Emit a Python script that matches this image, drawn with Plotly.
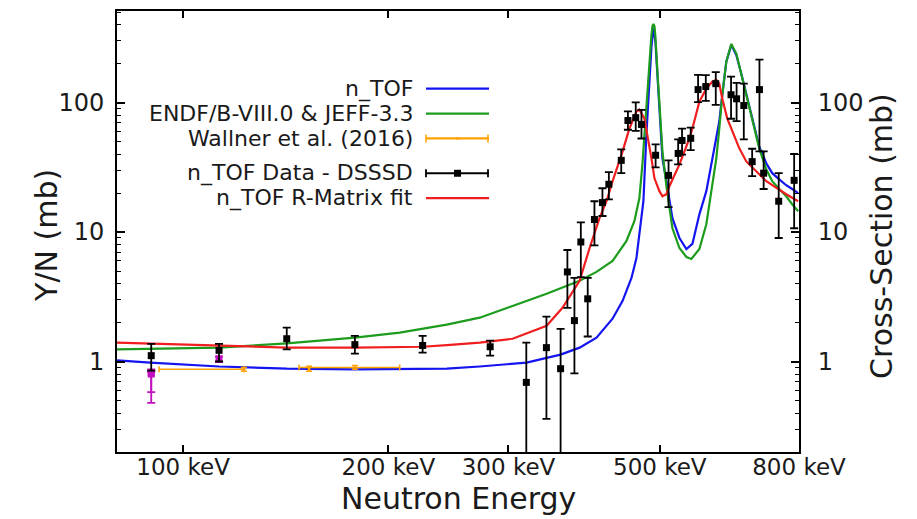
import plotly.graph_objects as go
import math

# ---------------- data ----------------
# n_TOF evaluation (blue)
blue_E = [80.0, 89.5, 112.9, 142, 178.6, 243.6, 272.2, 318.9, 357.6, 381.4, 403.8, 426.3, 441, 454.4,
          462.1, 469.9, 473.1, 477.9, 482.8, 486.1, 489.4, 492.7, 496.0, 501.1, 504.5, 511.3, 521.8,
          534.3, 547, 558.2, 571.5, 585.1, 597, 607.2, 611.3, 617.5, 625.9, 636.6, 647.4, 658.4,
          669.6, 683.3, 699.5, 716.3, 730.9, 748.4, 766.2, 781.8, 797.8]
blue_Y = [1.02, 0.98, 0.915, 0.88, 0.87, 0.88, 0.915, 0.98, 1.13, 1.28, 1.53, 2.14, 2.94, 4.42,
          6.31, 12.2, 17.3, 56.7, 153, 269, 383, 295, 164, 63.1, 37.1, 24.7, 12.8,
          9.0, 7.4, 8.1, 13.7, 20.7, 37.1, 59.8, 71.7, 115, 207, 279, 233, 167,
          117, 73.9, 45.6, 34.0, 28.5, 25.5, 23.0, 21.5, 20.0]

# ENDF/B-VIII.0 & JEFF-3.3 (green)
green_E = [80.0, 112.9, 142, 178.6, 207.8, 243.6, 272.2, 304.2, 341.2, 381.4, 403.8, 426.3, 446.8,
           459, 466.7, 471.5, 476.3, 479.6, 482.8, 486.1, 487.8, 489.4, 491.1, 492.7, 496.0, 499.4,
           504.5, 511.3, 521.8, 534.3, 547, 556.3, 571.5, 585.1, 597, 605.1, 611.3, 617.5, 625.9,
           636.6, 647.4, 658.4, 669.6, 683.3, 699.5, 716.3, 730.9, 748.4, 766.2, 781.8, 797.8]
green_Y = [1.24, 1.28, 1.38, 1.53, 1.67, 1.93, 2.18, 2.70, 3.34, 4.20, 4.92, 5.98, 8.53,
           12.2, 18.3, 33.3, 71.7, 133, 207, 334, 391, 405, 391, 322, 174, 93.1,
           42.0, 22.6, 10.7, 7.53, 6.42, 6.2, 7.4, 11.5, 23.4, 37.1, 63.1, 115, 207,
           284, 239, 167, 115, 71.7, 44.3, 30.5, 24.7, 21.5, 18.9, 16.4, 14.5]

# n_TOF R-Matrix fit (red)
red_E = [80.0, 112.9, 142, 178.6, 224.5, 243.6, 272.2, 304.2, 341.2, 360, 381.4, 394.5, 407.9,
         417.7, 426.3, 441, 451.3, 462.1, 466.7, 474.7, 479.6, 486.1, 491.1, 499.4, 504.5, 511.3,
         516.5, 534.3, 552.6, 558.2, 571.5, 585.1, 597, 605.1, 611.3, 617.5, 628, 638.8, 654,
         669.6, 692.5, 716.3, 766.2, 797.8]
red_Y = [1.40, 1.33, 1.28, 1.28, 1.30, 1.34, 1.40, 1.50, 1.89, 2.60, 4.20, 7.53, 12.8,
         17.3, 24.7, 42.0, 63.1, 85.3, 88.3, 75.3, 56.7, 37.1, 26.0, 20.7, 18.9, 19.6,
         22.6, 33.3, 52.8, 63.1, 101.8, 128.2, 145, 150, 140, 107, 75.3, 59.8, 44.3,
         35.1, 29.5, 24.7, 19.6, 17.3]

# n_TOF Data - DSSSD (black)
data_E = [89.8, 112.9, 141.9, 178.6, 224.5, 282, 318.6, 341, 357.7, 366, 374.8, 383, 392, 401, 412,
          421, 439, 449, 461, 470, 493, 515, 532, 539, 555, 569, 584, 604, 636, 648, 664, 683, 700,
          710, 747, 787]
data_Y = [1.11, 1.22, 1.50, 1.35, 1.33, 1.30, 0.69, 1.28, 0.88, 4.92, 2.07, 8.38, 3.05, 12.5, 16.9,
          23.4, 35.8, 72.7, 76.5, 67.8, 39.2, 27.4, 40.5, 51, 53, 126, 133, 140, 115, 107, 95, 35, 126,
          28.5, 17.3, 25.1]
data_err_plus = [0.26, 0.15, 0.33, 0.23, 0.25, 0.15, 0.71, 0.94, 0.91, 2.35, 2.35, 3.5, 1.37, 4.8, 4.9,
                 5.6, 7.7, 13, 24, 20, 8.3, 8.4, 11.4, 12, 11, 38, 30, 32, 44, 35, 45, 9, 89,
                 13.5, 11.2, 15]
data_err_minus = [0.26, 0.22, 0.26, 0.20, 0.16, 0.19, 0.685, 0.92, 0.875, 2.32, 1.26, 3.9, 1.49, 4.6, 3.6,
                  5.5, 7.3, 11, 16, 15, 7.6, 11.8, 7.2, 11.3, 10, 25, 30, 44, 40, 35, 43, 8, 84,
                  7, 8.3, 14.4]

# extra low-energy points (magenta)
mag_E = [89.8, 89.8, 112.9]
mag_Y = [0.82, 0.80, 1.05]
mag_err_plus = [0.05, 0.03, 0.04]
mag_err_minus = [0.34, 0.22, 0.06]

# Wallner et al. (2016) (orange)
wal_E = [122.8, 153, 178.6]
wal_Y = [0.87, 0.88, 0.90]
wal_xerr_minus = [30.6, 0.0, 30.7]
wal_xerr_plus = [0.0, 0.0, 29.2]
wal_yerr = [0.03, 0.04, 0.03]

x_tickvals = [100, 200, 300, 500, 800]
x_ticktext = ["100 keV", "200 keV", "300 keV", "500 keV", "800 keV"]
y_tickvals = [1, 10, 100]
y_ticktext = ["1", "10", "100"]
y_minor_vals = [d * m for d in [0.1, 1, 10, 100] for m in range(2, 10)]

legend_labels = ["n_TOF", "ENDF/B-VIII.0 & JEFF-3.3", "Wallner et al. (2016)",
                 "n_TOF Data - DSSSD", "n_TOF R-Matrix fit"]

# ---------------- styling ----------------
FONT = "DejaVu Sans"
TXT = "#1a1a1a"
C_BLUE = "#1414f0"
C_GREEN = "#1c9c1c"
C_RED = "#f01e1e"
C_ORANGE = "#ffa000"
C_MAG = "#c010c0"

fig = go.Figure()

fig.add_trace(go.Scatter(x=blue_E, y=blue_Y, mode="lines",
                         line=dict(color=C_BLUE, width=2.2), showlegend=False))
fig.add_trace(go.Scatter(x=green_E, y=green_Y, mode="lines",
                         line=dict(color=C_GREEN, width=2.2), showlegend=False))
fig.add_trace(go.Scatter(x=red_E, y=red_Y, mode="lines",
                         line=dict(color=C_RED, width=2.2), showlegend=False))

fig.add_trace(go.Scatter(
    x=wal_E, y=wal_Y, mode="markers",
    marker=dict(color=C_ORANGE, size=3, symbol="circle"),
    error_x=dict(type="data", symmetric=False, array=wal_xerr_plus, arrayminus=wal_xerr_minus,
                 color=C_ORANGE, thickness=1.5, width=3),
    error_y=dict(type="data", array=wal_yerr, color=C_ORANGE, thickness=1.5, width=3),
    showlegend=False))

fig.add_trace(go.Scatter(
    x=mag_E, y=mag_Y, mode="markers",
    marker=dict(color=C_MAG, size=7, symbol="square"),
    error_y=dict(type="data", symmetric=False, array=mag_err_plus, arrayminus=mag_err_minus,
                 color=C_MAG, thickness=1.8, width=4),
    showlegend=False))

fig.add_trace(go.Scatter(
    x=data_E, y=data_Y, mode="markers",
    marker=dict(color="black", size=7, symbol="square"),
    error_y=dict(type="data", symmetric=False, array=data_err_plus, arrayminus=data_err_minus,
                 color="black", thickness=1.8, width=4),
    showlegend=False))

# invisible trace so the right-hand axis is drawn
fig.add_trace(go.Scatter(x=blue_E, y=blue_Y, mode="lines", yaxis="y2",
                         line=dict(color="rgba(0,0,0,0)", width=0), hoverinfo="skip",
                         showlegend=False))

yr = [math.log10(0.2), math.log10(510)]

axis_common = dict(showline=True, linecolor="black", linewidth=2, showgrid=False, zeroline=False,
                   ticks="inside", tickcolor="black", tickwidth=1.5)

fig.update_layout(
    width=917, height=519,
    margin=dict(l=117, r=118, t=9, b=67),
    paper_bgcolor="white", plot_bgcolor="white",
    font=dict(family=FONT, color=TXT),
    xaxis=dict(type="log", range=[math.log10(80), math.log10(800)],
               tickmode="array", tickvals=x_tickvals, ticktext=x_ticktext,
               ticklen=7, mirror="ticks", tickfont=dict(size=23, family=FONT, color=TXT),
               ticklabelstandoff=-7, **axis_common),
    yaxis=dict(type="log", range=yr, tickmode="array", tickvals=y_tickvals, ticktext=y_ticktext,
               ticklen=8, tickfont=dict(size=24, family=FONT, color=TXT), ticklabelstandoff=6,
               minor=dict(ticks="inside", ticklen=4, tickvals=y_minor_vals,
                          tickcolor="black", tickwidth=1.2, showgrid=False),
               **axis_common),
    yaxis2=dict(type="log", range=yr, overlaying="y", side="right", anchor="x",
                tickmode="array", tickvals=y_tickvals, ticktext=y_ticktext, ticklen=8,
                tickfont=dict(size=24, family=FONT, color=TXT), ticklabelstandoff=12,
                minor=dict(ticks="inside", ticklen=4, tickvals=y_minor_vals,
                           tickcolor="black", tickwidth=1.2, showgrid=False),
                **axis_common),
)

# axis titles
fig.add_annotation(text="Neutron Energy", xref="paper", yref="paper", x=0.5, y=0,
                   yanchor="middle", yshift=-46, showarrow=False, font=dict(size=30, family=FONT, color=TXT))
fig.add_annotation(text="Y/N (mb)", xref="paper", yref="paper", x=0, y=0.49, xanchor="center",
                   xshift=-70, textangle=-90, showarrow=False, font=dict(size=30, family=FONT, color=TXT))
fig.add_annotation(text="Cross-Section (mb)", xref="paper", yref="paper", x=1, y=0.49, xanchor="center",
                   xshift=83, textangle=-90, showarrow=False, font=dict(size=30, family=FONT, color=TXT))

# legend (drawn by hand: right-aligned text, sample on the right)
PW, PH, L, B = 917 - 117 - 118, 519 - 9 - 67, 117, 67
def px_x(p):
    return (p - L) / PW
def px_y(p):
    return (519 - B - p) / PH

rows = [87, 112, 137, 172, 197]
cols = [C_BLUE, C_GREEN, C_ORANGE, "black", C_RED]
for lab, r, c in zip(legend_labels, rows, cols):
    fig.add_annotation(text=lab, xref="paper", yref="paper", x=px_x(415), y=px_y(r),
                       xanchor="right", yanchor="middle", showarrow=False,
                       font=dict(size=22, family=FONT, color=TXT))
    fig.add_shape(type="line", xref="paper", yref="paper", x0=px_x(426), x1=px_x(489),
                  y0=px_y(r), y1=px_y(r), line=dict(color=c, width=2.2))

for r, c, w in [(137, C_ORANGE, 1.5), (172, "black", 1.8)]:
    for xp in (426, 488):
        fig.add_shape(type="line", xref="paper", yref="paper", x0=px_x(xp), x1=px_x(xp),
                      y0=px_y(r - 4), y1=px_y(r + 4), line=dict(color=c, width=w))
fig.add_shape(type="rect", xref="paper", yref="paper", x0=px_x(454), x1=px_x(461),
              y0=px_y(168.5), y1=px_y(175.5), fillcolor="black", line=dict(width=0))
fig.add_shape(type="circle", xref="paper", yref="paper", x0=px_x(456), x1=px_x(459),
              y0=px_y(135.5), y1=px_y(138.5), fillcolor=C_ORANGE, line=dict(width=0))

fig.write_html("out.html")
